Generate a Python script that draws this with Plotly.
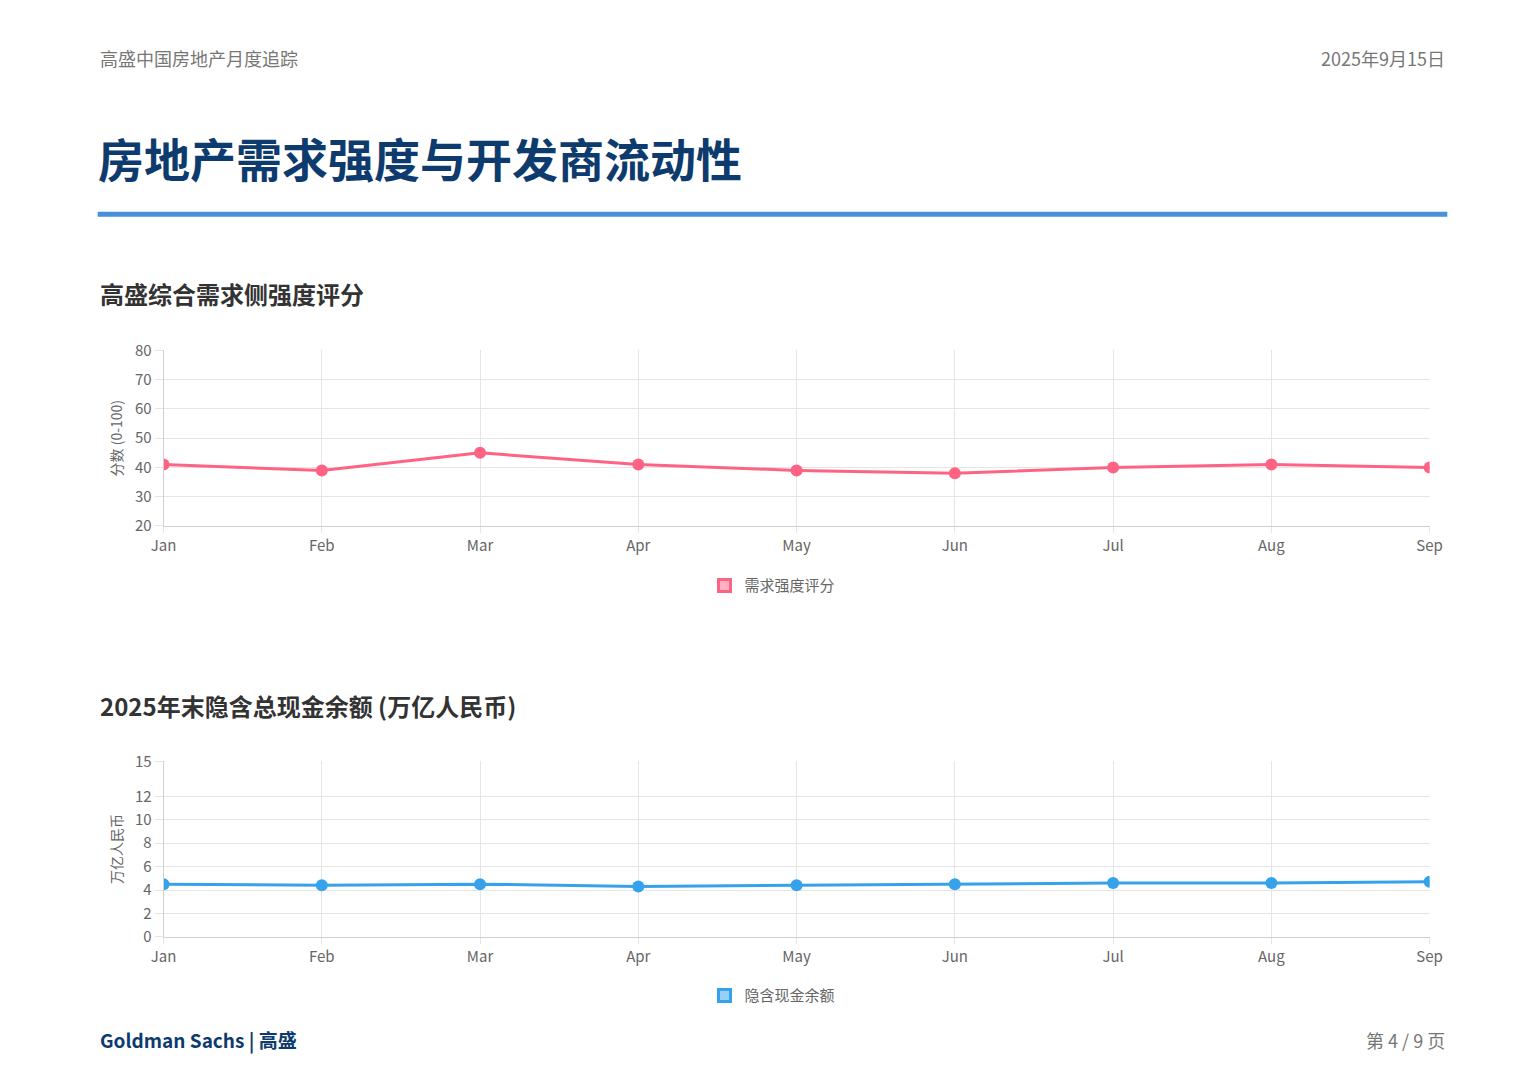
import plotly.graph_objects as go

months = ["Jan","Feb","Mar","Apr","May","Jun","Jul","Aug","Sep"]
demand = [41, 39, 45, 41, 39, 38, 40, 41, 40]
cash = [4.5, 4.4, 4.5, 4.3, 4.4, 4.5, 4.6, 4.6, 4.7]
demand_ticks = [20, 30, 40, 50, 60, 70, 80]
cash_ticks = [0, 2, 4, 6, 8, 10, 12, 15]

W, H = 1529, 1080
def px(x): return x / W
def py(y): return 1 - y / H

F = "Noto Sans CJK SC, Noto Sans, sans-serif"
PINK, PINKF = "#ff6384", "rgba(255,99,132,0.5)"
BLUE, BLUEF = "#36a2eb", "rgba(54,162,235,0.5)"

fig = go.Figure()
fig.add_trace(go.Scatter(x=list(range(9)), y=demand, mode="lines+markers", line=dict(color=PINK, width=3),
                         marker=dict(size=12, color=PINK), xaxis="x", yaxis="y", showlegend=False))
fig.add_trace(go.Bar(x=[None], y=[None], name="需求强度评分", marker=dict(color=PINKF, line=dict(color=PINK, width=3)),
                     xaxis="x", yaxis="y", legend="legend"))
fig.add_trace(go.Scatter(x=list(range(9)), y=cash, mode="lines+markers", line=dict(color=BLUE, width=3),
                         marker=dict(size=12, color=BLUE), xaxis="x2", yaxis="y2", showlegend=False))
fig.add_trace(go.Bar(x=[None], y=[None], name="隐含现金余额", marker=dict(color=BLUEF, line=dict(color=BLUE, width=3)),
                     xaxis="x2", yaxis="y2", legend="legend2"))

xcommon = dict(tickvals=list(range(9)), ticktext=months, range=[0, 8], showgrid=True, gridcolor="#e5e5e5",
               showline=True, linecolor="#d0d0d0", ticks="outside", ticklen=6, tickcolor="#e5e5e5",
               tickfont=dict(size=15, color="#666"), zeroline=False)
ycommon = dict(showgrid=True, gridcolor="#e5e5e5", showline=True, linecolor="#d0d0d0", ticks="outside", ticklen=8,
               tickcolor="#e5e5e5", tickfont=dict(size=15, color="#666"), zeroline=False)

fig.update_layout(
    width=W, height=H, margin=dict(l=0, r=0, t=0, b=0), paper_bgcolor="white", plot_bgcolor="white",
    font=dict(family=F, color="#666"),
    xaxis=dict(domain=[px(145), px(1433)], anchor="y", **xcommon),
    yaxis=dict(domain=[py(516), py(337)], anchor="x", range=[20, 80], tickvals=demand_ticks,
               title=dict(text="分数 (0-100)", font=dict(size=14, color="#666"), standoff=8), **ycommon),
    xaxis2=dict(domain=[px(145), px(1433)], anchor="y2", **xcommon),
    yaxis2=dict(domain=[py(935), py(756)], anchor="x2", range=[0, 15], tickvals=cash_ticks,
                title=dict(text="万亿人民币", font=dict(size=14, color="#666"), standoff=8), **ycommon),
    legend=dict(x=0.5, y=py(577), xanchor="center", yanchor="middle", orientation="h", font=dict(size=15, color="#666")),
    legend2=dict(x=0.5, y=py(995), xanchor="center", yanchor="middle", orientation="h", font=dict(size=15, color="#666")),
    shapes=[dict(type="line", xref="paper", yref="paper", x0=px(78), x1=px(1451), y0=py(198), y1=py(198),
                 line=dict(color="#4a90d9", width=5))],
    annotations=[
        dict(text="高盛中国房地产月度追踪", x=px(78), y=py(39), xanchor="left", yanchor="middle", font=dict(size=18, color="#777")),
        dict(text="2025年9月15日", x=px(1451), y=py(39), xanchor="right", yanchor="middle", font=dict(size=18, color="#777")),
        dict(text="<b>房地产需求强度与开发商流动性</b>", x=px(76), y=py(140), xanchor="left", yanchor="middle", font=dict(size=46, color="#0d3b6e")),
        dict(text="<b>高盛综合需求侧强度评分</b>", x=px(78), y=py(279), xanchor="left", yanchor="middle", font=dict(size=24, color="#333")),
        dict(text="<b>2025年末隐含总现金余额 (万亿人民币)</b>", x=px(78), y=py(699), xanchor="left", yanchor="middle", font=dict(size=24, color="#333")),
        dict(text="<b>Goldman Sachs | 高盛</b>", x=px(78), y=py(1040), xanchor="left", yanchor="middle", font=dict(size=19, color="#0d3b6e")),
        dict(text="第 4 / 9 页", x=px(1451), y=py(1040), xanchor="right", yanchor="middle", font=dict(size=18, color="#777")),
    ],
)
for a in fig.layout.annotations:
    a.xref = "paper"; a.yref = "paper"; a.showarrow = False

fig.write_html("out.html")
